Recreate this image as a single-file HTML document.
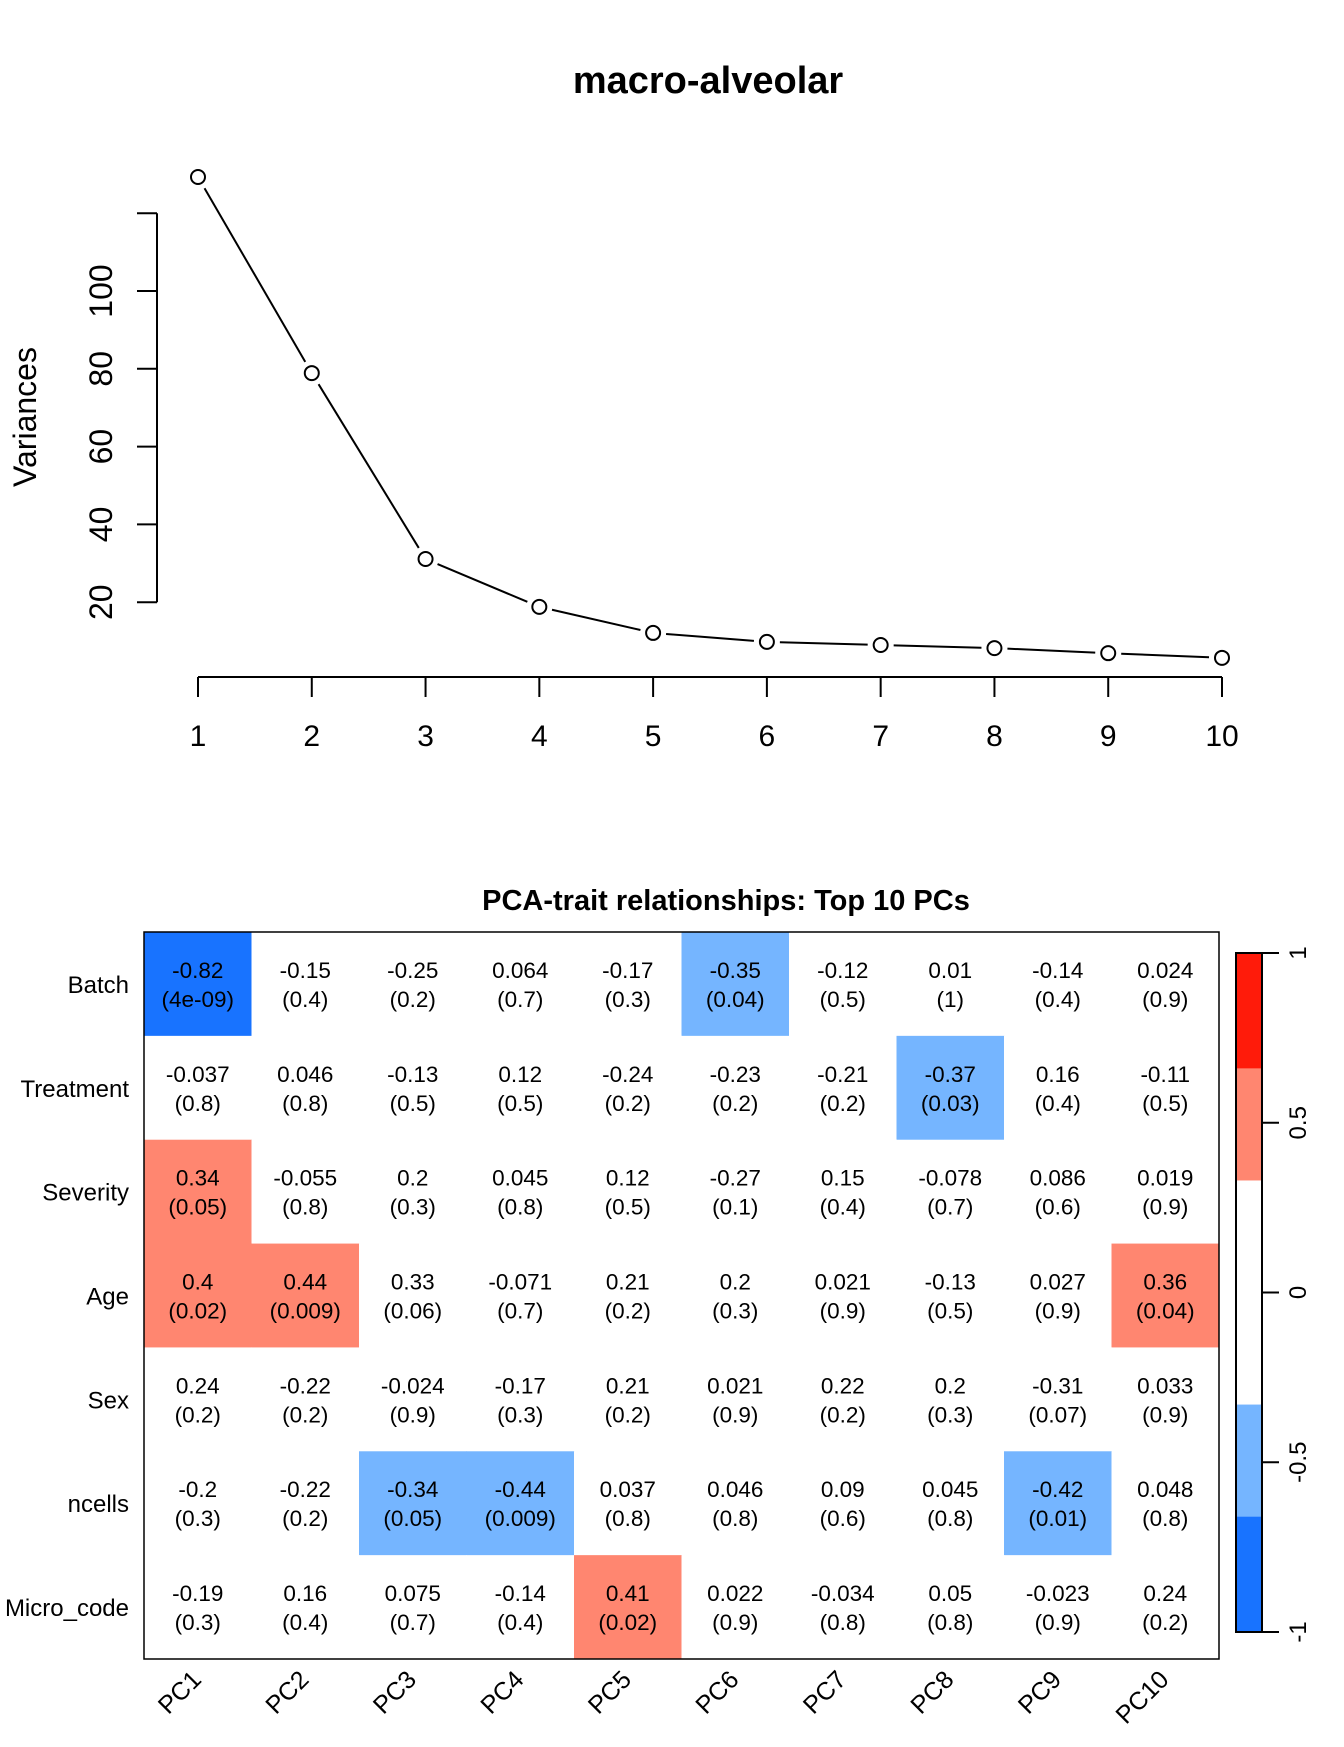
<!DOCTYPE html>
<html><head><meta charset="utf-8"><style>
body{margin:0;background:#fff;}
svg{display:block;font-family:"Liberation Sans",Arial,sans-serif;}
</style></head><body>
<svg id="chart" width="1344" height="1747" viewBox="0 0 1344 1747" xmlns="http://www.w3.org/2000/svg">
<text x="708" y="93" font-size="38" font-weight="bold" text-anchor="middle">macro-alveolar</text>
<g id="scree"></g>
<text x="726" y="910" font-size="29" font-weight="bold" text-anchor="middle">PCA-trait relationships: Top 10 PCs</text>
<g id="heat"></g>
<g id="cbar"></g>
</svg>
<script>
const pcs = [1,2,3,4,5,6,7,8,9,10];
const variances = [129.3,78.9,31.1,18.8,12.1,9.8,9.0,8.2,6.9,5.7];
const yTicks = [20,40,60,80,100,120];
const yTickLabels = ["20","40","60","80","100",""];
const traits = ["Batch","Treatment","Severity","Age","Sex","ncells","Micro_code"];
const pcLabels = ["PC1","PC2","PC3","PC4","PC5","PC6","PC7","PC8","PC9","PC10"];
const rBatch = [-0.82,-0.15,-0.25,0.064,-0.17,-0.35,-0.12,0.01,-0.14,0.024];
const pBatch = ["4e-09","0.4","0.2","0.7","0.3","0.04","0.5","1","0.4","0.9"];
const rTreatment = [-0.037,0.046,-0.13,0.12,-0.24,-0.23,-0.21,-0.37,0.16,-0.11];
const pTreatment = ["0.8","0.8","0.5","0.5","0.2","0.2","0.2","0.03","0.4","0.5"];
const rSeverity = [0.34,-0.055,0.2,0.045,0.12,-0.27,0.15,-0.078,0.086,0.019];
const pSeverity = ["0.05","0.8","0.3","0.8","0.5","0.1","0.4","0.7","0.6","0.9"];
const rAge = [0.4,0.44,0.33,-0.071,0.21,0.2,0.021,-0.13,0.027,0.36];
const pAge = ["0.02","0.009","0.06","0.7","0.2","0.3","0.9","0.5","0.9","0.04"];
const rSex = [0.24,-0.22,-0.024,-0.17,0.21,0.021,0.22,0.2,-0.31,0.033];
const pSex = ["0.2","0.2","0.9","0.3","0.2","0.9","0.2","0.3","0.07","0.9"];
const rNcells = [-0.2,-0.22,-0.34,-0.44,0.037,0.046,0.09,0.045,-0.42,0.048];
const pNcells = ["0.3","0.2","0.05","0.009","0.8","0.8","0.6","0.8","0.01","0.8"];
const rMicro = [-0.19,0.16,0.075,-0.14,0.41,0.022,-0.034,0.05,-0.023,0.24];
const pMicro = ["0.3","0.4","0.7","0.4","0.02","0.9","0.8","0.8","0.9","0.2"];
const cbarBreaks = [-1,-0.66,-0.33,0.33,0.66,1];
const cbarColors = ["#1873ff","#75b5ff","#ffffff","#ff8670","#ff1b0a"];
const cbarTicks = [-1,-0.5,0,0.5,1];

const NS="http://www.w3.org/2000/svg";
function mk(tag,attrs,parent,text){const e=document.createElementNS(NS,tag);for(const k in attrs)e.setAttribute(k,attrs[k]);if(text!==undefined)e.textContent=text;parent.appendChild(e);return e;}

// scree
const scree=document.getElementById('scree');
const sx=i=>198+(i-1)*(1222-198)/9;
const sy=v=>291-(v-100)*3.89;
let ax=mk('line',{x1:157,y1:sy(20),x2:157,y2:sy(120),stroke:'#000','stroke-width':2},scree);


yTicks.forEach((t,i)=>{
  const tk=mk('line',{x1:137,y1:sy(t),x2:157,y2:sy(t),stroke:'#000','stroke-width':2},scree);
  
  
  if(yTickLabels[i]){
    const tl=mk('text',{x:0,y:0,transform:`translate(112,${sy(t)}) rotate(-90)`,'font-size':32,'text-anchor':'middle'},scree,yTickLabels[i]);
    
    
  }
});
const yt=mk('text',{x:0,y:0,transform:'translate(36,417) rotate(-90)','font-size':32,'text-anchor':'middle'},scree,'Variances');


const xa=mk('line',{x1:sx(1),y1:677,x2:sx(10),y2:677,stroke:'#000','stroke-width':2},scree);


pcs.forEach(p=>{
  const tk=mk('line',{x1:sx(p),y1:677,x2:sx(p),y2:697,stroke:'#000','stroke-width':2},scree);
  
  
  const tl=mk('text',{x:sx(p),y:746,'font-size':30,'text-anchor':'middle'},scree,String(p));
  
  
});
for(let i=0;i<pcs.length-1;i++){
  const x1=sx(pcs[i]),y1=sy(variances[i]),x2=sx(pcs[i+1]),y2=sy(variances[i+1]);
  const dx=x2-x1,dy=y2-y1,L=Math.hypot(dx,dy),g=13;
  const seg=mk('line',{x1:x1+dx*g/L,y1:y1+dy*g/L,x2:x2-dx*g/L,y2:y2-dy*g/L,stroke:'#000','stroke-width':2},scree);
  
  
}
pcs.forEach((p,i)=>{
  const c=mk('circle',{cx:sx(p),cy:sy(variances[i]),r:7,fill:'#fff',stroke:'#000','stroke-width':2},scree);
  
  
});

// heatmap
const heat=document.getElementById('heat');
const rows=[[rBatch,pBatch],[rTreatment,pTreatment],[rSeverity,pSeverity],[rAge,pAge],[rSex,pSex],[rNcells,pNcells],[rMicro,pMicro]];
const L0=144,T0=932,CW=(1219-144)/10,CH=(1659-932)/7;
function colorOf(r){for(let k=0;k<cbarColors.length;k++){if(r<=cbarBreaks[k+1])return cbarColors[k];}return cbarColors[cbarColors.length-1];}
rows.forEach((row,ri)=>{
  const lab=mk('text',{x:129,y:T0+ri*CH+CH/2+9,'font-size':24,'text-anchor':'end'},heat,traits[ri]);
  
  
  row[0].forEach((r,ci)=>{
    const x=L0+ci*CW,y=T0+ri*CH;
    const col=colorOf(r);
    const cell=mk('rect',{x:x,y:y,width:CW+0.5,height:CH+0.5,fill:col},heat);
    
    
    const t1=mk('text',{x:x+CW/2,y:y+CH/2-6,'font-size':22.5,'text-anchor':'middle'},heat,String(r));
    
    
    const t2=mk('text',{x:x+CW/2,y:y+CH/2+23,'font-size':22.5,'text-anchor':'middle'},heat,'('+row[1][ci]+')');
    
    
  });
});
const frame=mk('rect',{x:L0,y:T0,width:1219-144,height:1659-932,fill:'none',stroke:'#000','stroke-width':1.5},heat);


pcLabels.forEach((p,ci)=>{
  const cx=L0+ci*CW+CW/2+5;
  const t=mk('text',{x:0,y:0,transform:`translate(${cx},1681) rotate(-45)`,'font-size':25,'text-anchor':'end'},heat,p);
  
  
});

// color bar
const cb=document.getElementById('cbar');
const cT=953,cB=1632,cL=1236,cR=1262;
const cy=v=>cT+(1-v)/2*(cB-cT);
cbarColors.forEach((c,k)=>{
  const r=mk('rect',{x:cL,y:cy(cbarBreaks[k+1]),width:cR-cL,height:cy(cbarBreaks[k])-cy(cbarBreaks[k+1]),fill:c},cb);
  
  
});
const cf=mk('rect',{x:cL,y:cT,width:cR-cL,height:cB-cT,fill:'none',stroke:'#000','stroke-width':2},cb);


cbarTicks.forEach(t=>{
  const tk=mk('line',{x1:cR,y1:cy(t),x2:1279,y2:cy(t),stroke:'#000','stroke-width':2},cb);
  
  
  const tl=mk('text',{x:0,y:0,transform:`translate(1306,${cy(t)}) rotate(-90)`,'font-size':24,'text-anchor':'middle'},cb,String(t));
  
  
});
</script>
</body></html>
